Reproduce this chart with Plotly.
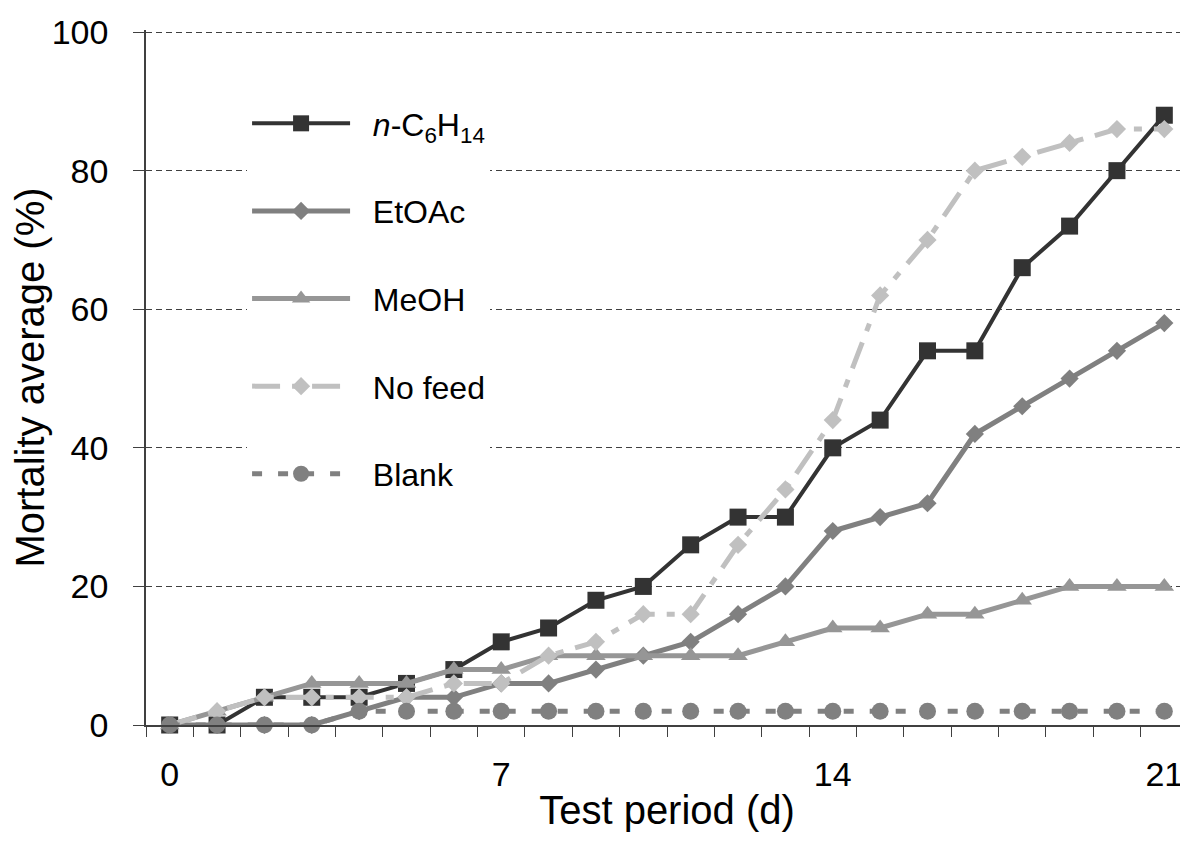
import plotly.graph_objects as go

days = list(range(22))
hexane = [0, 0, 4, 4, 4, 6, 8, 12, 14, 18, 20, 26, 30, 30, 40, 44, 54, 54, 66, 72, 80, 88]
etoac = [0, 0, 0, 0, 2, 4, 4, 6, 6, 8, 10, 12, 16, 20, 28, 30, 32, 42, 46, 50, 54, 58]
meoh = [0, 2, 4, 6, 6, 6, 8, 8, 10, 10, 10, 10, 10, 12, 14, 14, 16, 16, 18, 20, 20, 20]
nofeed = [0, 2, 4, 4, 4, 4, 6, 6, 10, 12, 16, 16, 26, 34, 44, 62, 70, 80, 82, 84, 86, 86]
blank = [0, 0, 0, 0, 2, 2, 2, 2, 2, 2, 2, 2, 2, 2, 2, 2, 2, 2, 2, 2, 2, 2]

names = ["<i>n</i>-C<sub>6</sub>H<sub>14</sub>", "EtOAc", "MeOH", "No feed", "Blank"]
series = [hexane, etoac, meoh, nofeed, blank]
colors = ["#333333", "#808080", "#969696", "#c0c0c0", "#808080"]
symbols = ["square", "diamond", "triangle-up", "diamond", "circle"]
dashes = ["solid", "solid", "solid", "28px,12px,8px,12px", "10px,16px"]
sizes = [17, 14, 17, 14, 17]
widths = [4, 5, 5, 5, 5]

fig = go.Figure()
for i, (nm, ys) in enumerate(zip(names, series)):
    fig.add_trace(go.Scatter(
        x=days, y=ys, name="\u00a0\u00a0" + nm, mode="lines+markers",
        legendgroup=f"g{i}",
        line=dict(color=colors[i], width=widths[i], dash=dashes[i]),
        marker=dict(symbol=symbols[i], size=sizes[i], color=colors[i],
                    line=dict(width=0)),
        cliponaxis=False,
    ))

font_family = "Liberation Sans, Arial, sans-serif"
fig.update_layout(
    width=1180, height=833,
    margin=dict(l=138, r=0, t=22, b=116),
    paper_bgcolor="white", plot_bgcolor="white",
    font=dict(family=font_family, color="black", size=34),
    showlegend=True,
    legend=dict(
        x=0.097, y=0.905, xanchor="left", yanchor="top",
        bgcolor="white", borderwidth=0,
        font=dict(size=32, family=font_family, color="black"),
        tracegroupgap=43, itemwidth=98,
    ),
    xaxis=dict(
        range=[-0.5, 21.5],
        tickmode="array", tickvals=[0, 7, 14, 21], ticktext=["0", "7", "14", "21"],
        ticks="", showgrid=False, zeroline=False,
        showline=True, linecolor="#404040", linewidth=1.5,
        tickfont=dict(size=34), ticklabelstandoff=18,
        minor=dict(tickmode="linear", tick0=-0.5, dtick=1, ticks="outside",
                   ticklen=10, tickwidth=1, tickcolor="#404040", showgrid=False),
        title=dict(text="Test period (d)", font=dict(size=40), standoff=4),
    ),
    yaxis=dict(
        range=[0, 100.3], tickvals=[0, 20, 40, 60, 80, 100],
        ticks="outside", ticklen=11, tickwidth=1, tickcolor="#404040",
        showgrid=True, gridcolor="#404040", gridwidth=1, griddash="6px,4px",
        zeroline=False, showline=True, linecolor="#404040", linewidth=1.5,
        tickfont=dict(size=34), ticklabelstandoff=18,
        title=dict(text="Mortality average (%)", font=dict(size=40), standoff=8),
    ),
)

fig.write_html("out.html")
